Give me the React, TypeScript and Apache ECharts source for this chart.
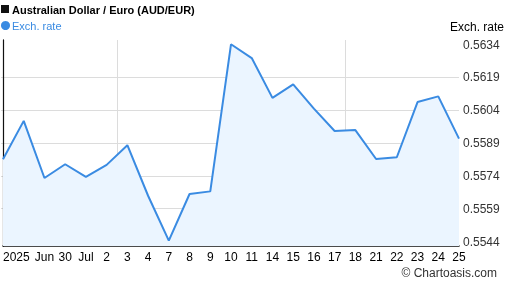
import React, { useEffect, useRef } from "react";
import * as echarts from "echarts";

const dates = [
  "2025-06-25", "2025-06-26", "2025-06-27", "2025-06-30", "2025-07-01", "2025-07-02",
  "2025-07-03", "2025-07-04", "2025-07-07", "2025-07-08", "2025-07-09", "2025-07-10",
  "2025-07-11", "2025-07-14", "2025-07-15", "2025-07-16", "2025-07-17", "2025-07-18",
  "2025-07-21", "2025-07-22", "2025-07-23", "2025-07-24", "2025-07-25",
];
const xLabels = [
  "2025", "", "Jun", "30", "Jul", "2", "3", "4", "7", "8", "9", "10", "11",
  "14", "15", "16", "17", "18", "21", "22", "23", "24", "25",
];
const rates = [
  0.55816, 0.55991, 0.5573, 0.55793, 0.55735, 0.5579, 0.5588, 0.55649, 0.55444,
  0.55657, 0.55669, 0.56341, 0.56278, 0.56096, 0.56158, 0.56047, 0.55945, 0.55949,
  0.55817, 0.55825, 0.56077, 0.56103, 0.5591,
];
const tickMin = 0.5544;
const tickMax = 0.5634;
const tickStep = 0.0015;
const gridLineIdx = [5.5, 16.5];

const FONT = "'Liberation Sans', Arial, sans-serif";
const LINE = "#3a8be2";

export default function App() {
  const ref = useRef<HTMLDivElement>(null);
  useEffect(() => {
    if (!ref.current) return;
    const chart = echarts.init(ref.current, undefined, { renderer: "svg" });
    const plotTop = 40, plotBottom = 246, labTop = 44.5, labBottom = 241.5;
    const perPx = (tickMax - tickMin) / (labBottom - labTop);
    const dataMax = tickMax + (labTop - plotTop) * perPx;
    const dataMin = tickMin - (plotBottom - labBottom) * perPx;
    chart.setOption({
      animation: false,
      textStyle: { fontFamily: FONT },
      title: {
        text: "Australian Dollar / Euro (AUD/EUR)",
        left: 12,
        top: 4,
        padding: 0,
        textStyle: { fontFamily: FONT, fontSize: 11, fontWeight: "bold", color: "#000" },
      },
      legend: {
        left: 1,
        top: 20,
        icon: "circle",
        itemWidth: 9,
        itemHeight: 9,
        itemGap: 4,
        padding: 0,
        textStyle: { fontFamily: FONT, fontSize: 11, color: LINE, padding: [0, 0, 0, -3] },
        data: ["Exch. rate"],
      },
      graphic: [
        {
          type: "rect",
          shape: { x: 1, y: 5, width: 8, height: 8 },
          style: { fill: "#111" },
        },
        {
          type: "text",
          right: 3,
          top: 21,
          style: { text: "Exch. rate", font: `12px ${FONT}`, fill: "#000" },
        },
        {
          type: "text",
          right: 10,
          top: 267,
          style: { text: "© Chartoasis.com", font: `12px ${FONT}`, fill: "#333" },
        },
      ],
      grid: [
        { left: 1, right: 48, top: plotTop, bottom: 288 - plotBottom },
        { left: 1, right: 48, top: labTop, bottom: 288 - labBottom },
      ],
      xAxis: [
        {
          type: "value",
          gridIndex: 0,
          min: 0,
          max: dates.length - 1,
          interval: 1,
          axisLine: { show: true, lineStyle: { color: "#111", width: 1.5 } },
          axisTick: { show: false },
          splitLine: { show: false },
          axisLabel: {
            margin: 5,
            fontSize: 12,
            color: "#000",
            fontFamily: FONT,
            alignMinLabel: "left",
            showMinLabel: true,
            showMaxLabel: true,
            padding: [0, 0, 0, 0],
            formatter: (v: number) => xLabels[Math.round(v)] ?? "",
          },
        },
        {
          type: "value",
          gridIndex: 1,
          min: 0,
          max: 1,
          show: false,
        },
      ],
      yAxis: [
        {
          type: "value",
          gridIndex: 0,
          position: "right",
          min: dataMin,
          max: dataMax,
          axisLine: { show: true, lineStyle: { color: "#111", width: 1.2 } },
          axisTick: { show: false },
          axisLabel: { show: false },
          splitLine: { show: false },
        },
        {
          type: "value",
          gridIndex: 1,
          position: "right",
          min: tickMin,
          max: tickMax,
          interval: tickStep,
          axisLine: { show: false },
          axisTick: { show: false },
          axisLabel: {
            margin: 4,
            fontSize: 12,
            color: "#333",
            fontFamily: FONT,
            formatter: (v: number) => v.toFixed(4),
          },
          splitLine: {
            show: true,
            showMinLine: false,
            showMaxLine: false,
            lineStyle: { color: "#dcdcdc", width: 1 },
          },
        },
        {
          type: "value",
          gridIndex: 0,
          position: "left",
          min: dataMin,
          max: dataMax,
          axisLine: { show: true, lineStyle: { color: "#111", width: 1 } },
          axisTick: { show: false },
          axisLabel: { show: false },
          splitLine: { show: false },
        },
      ],
      series: [
        {
          name: "Exch. rate",
          type: "line",
          xAxisIndex: 0,
          yAxisIndex: 0,
          data: rates.map((r, i) => [i, r]),
          symbol: "none",
          lineStyle: { color: LINE, width: 2 },
          itemStyle: { color: LINE },
          areaStyle: { color: "#ebf5ff", opacity: 1, origin: "start" },
          z: 3,
          markLine: {
            silent: true,
            z: 1,
            symbol: "none",
            label: { show: false },
            lineStyle: { color: "#dcdcdc", width: 1, type: "solid" },
            data: gridLineIdx.map((x) => ({ xAxis: x })),
          },
        },
      ],
    });
    return () => chart.dispose();
  }, []);
  return (
    <div
      ref={ref}
      style={{ position: "fixed", left: 0, top: 0, width: 507, height: 288 }}
    />
  );
}
